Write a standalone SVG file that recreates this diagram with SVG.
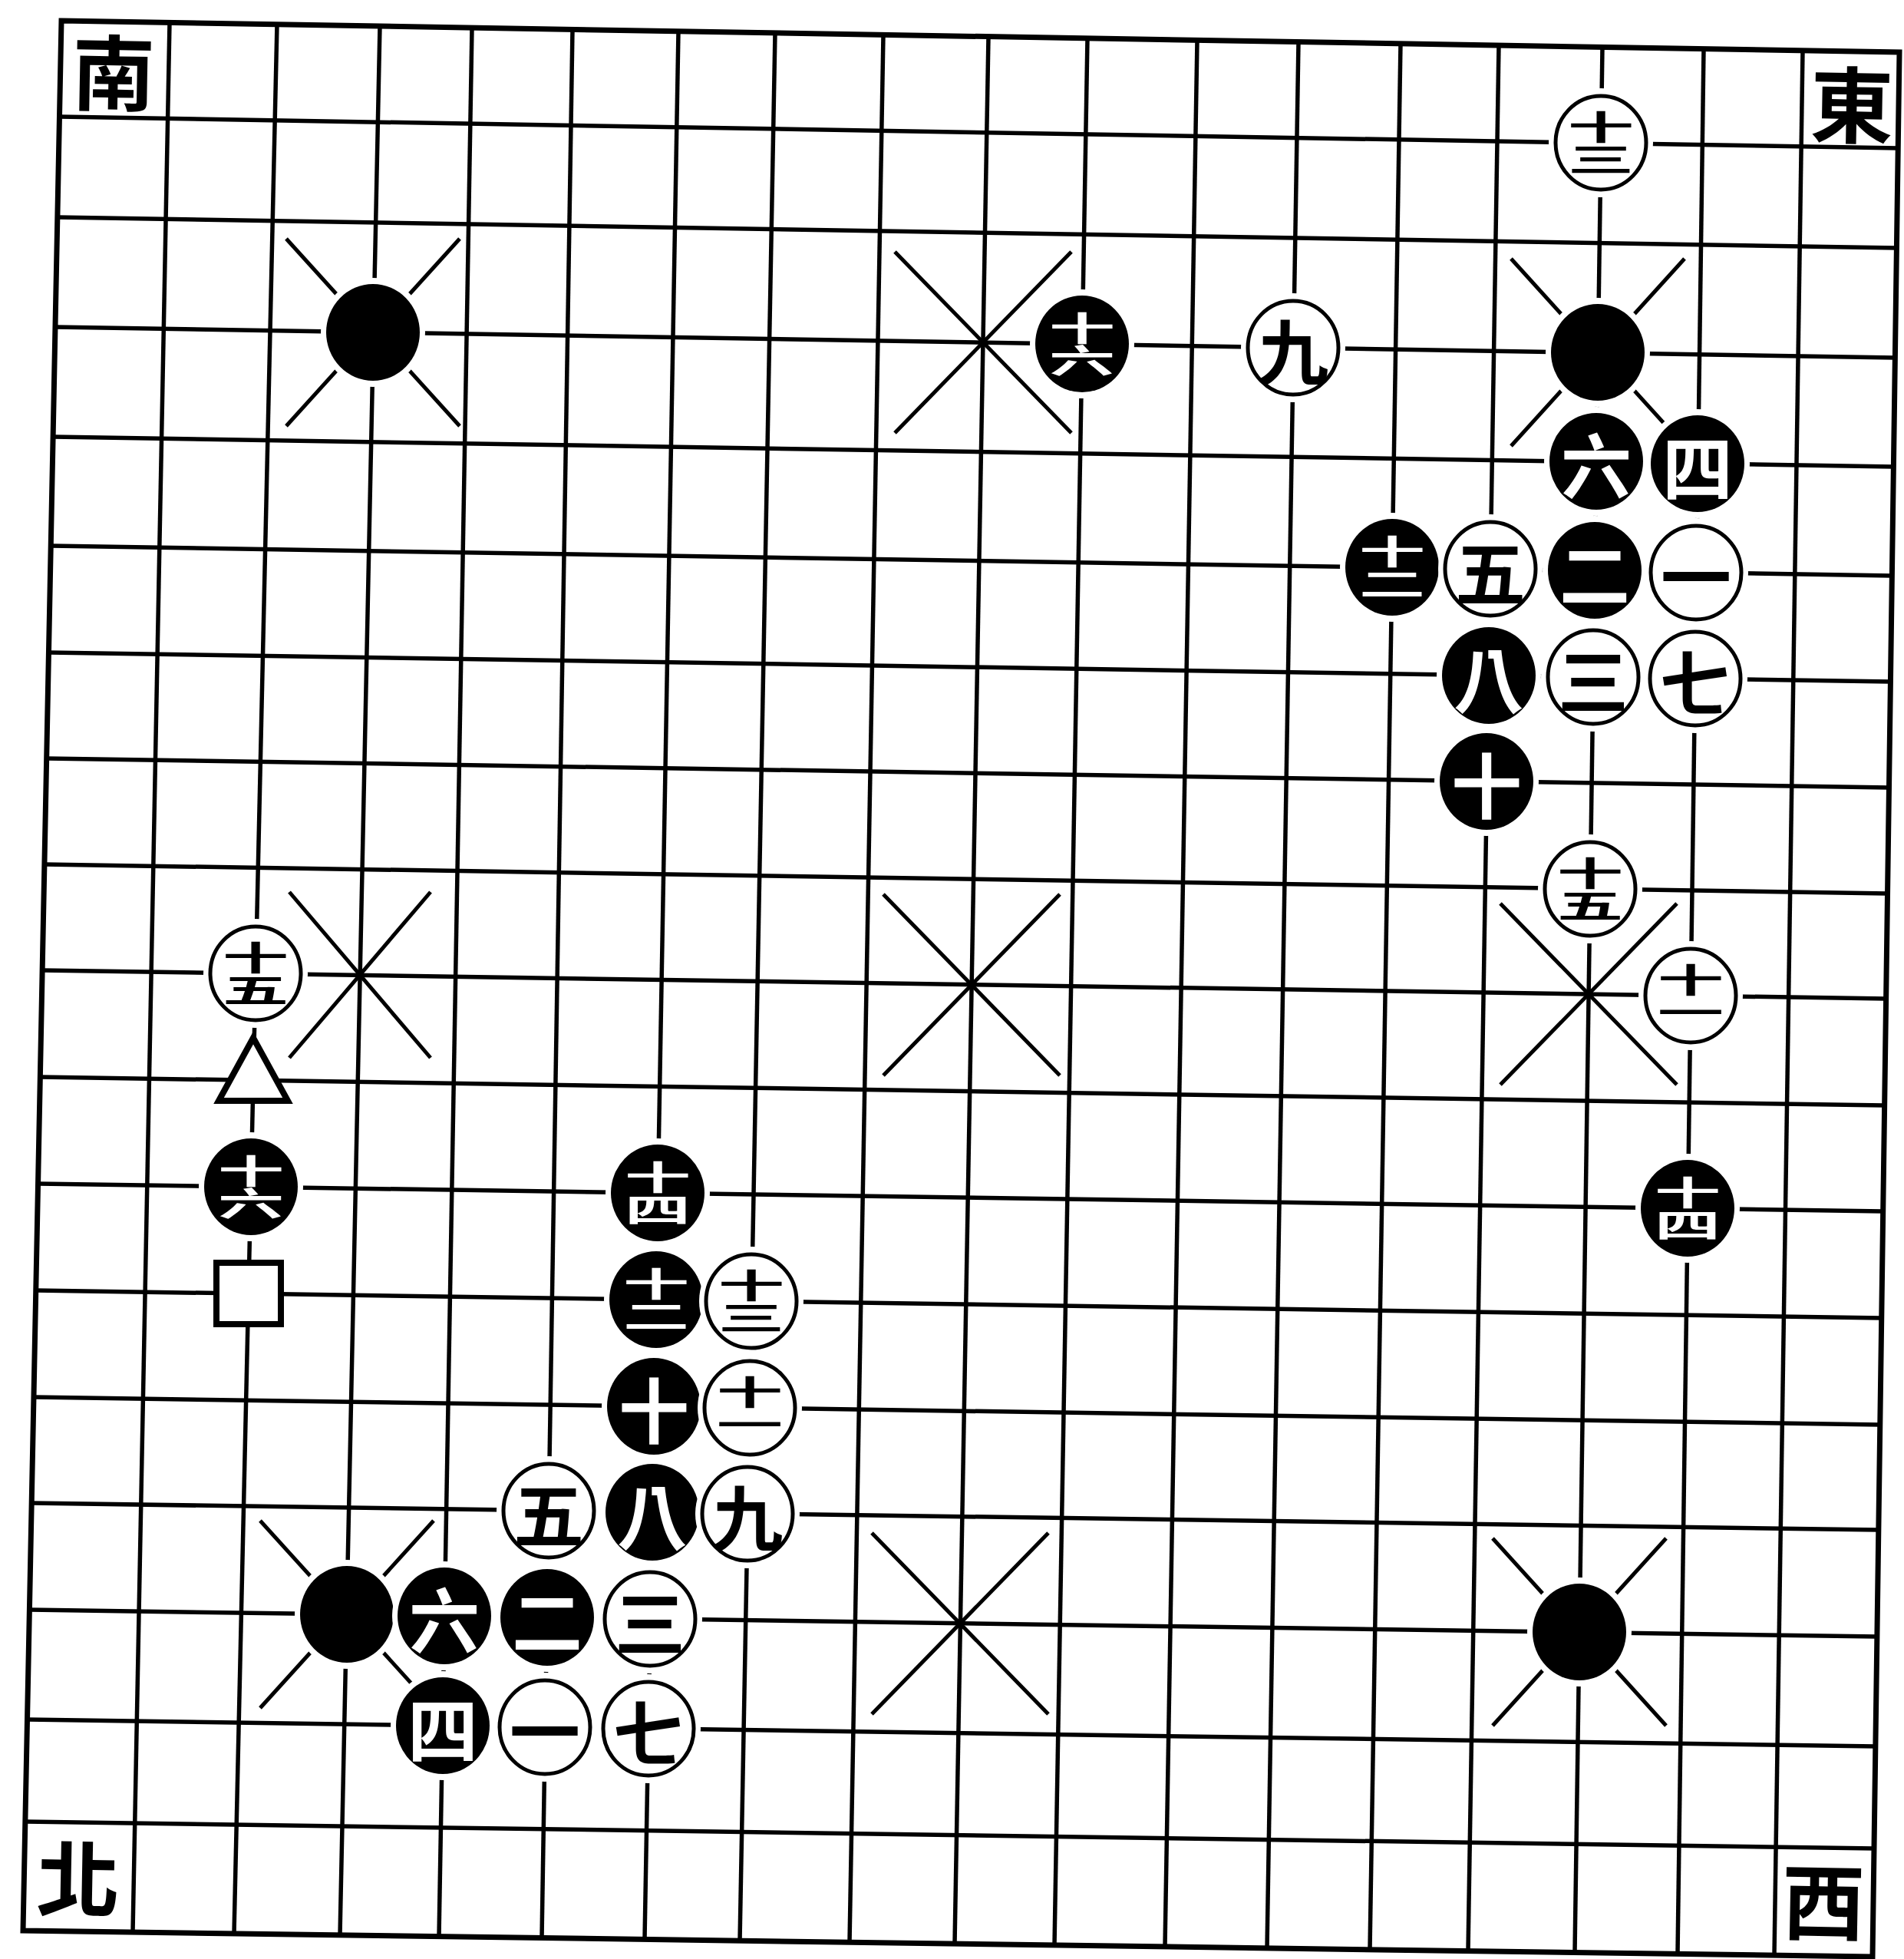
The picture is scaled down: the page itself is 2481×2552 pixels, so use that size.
<svg xmlns="http://www.w3.org/2000/svg" width="2481" height="2552" viewBox="0 0 2481 2552">
<style>
.gl line{stroke:#000;stroke-width:5.5}
.border{fill:none;stroke:#000;stroke-width:7;stroke-linejoin:miter}
.mk{fill:#fff;stroke:#000;stroke-width:8}
text{font-family:"Noto Sans CJK TC","Noto Sans CJK SC",sans-serif;font-weight:700;text-anchor:middle;dominant-baseline:central}
.tb{fill:#fff;font-size:92px}
.tw{fill:#000;font-size:92px}
.s{font-size:86px;writing-mode:vertical-rl;letter-spacing:-2px}
.corner{fill:#000;font-size:108px}
</style>
<defs>
<g id="xs" stroke="#000" stroke-width="5"><line x1="-45" y1="-47" x2="-113" y2="-122"/><line x1="45" y1="-47" x2="113" y2="-122"/><line x1="-45" y1="47" x2="-113" y2="122"/><line x1="45" y1="47" x2="113" y2="122"/></g>
<g id="xe" stroke="#000" stroke-width="5"><line x1="-115" y1="-118" x2="115" y2="118"/><line x1="115" y1="-118" x2="-115" y2="118"/></g>
<g id="xm" stroke="#000" stroke-width="5"><line x1="-92" y1="-108" x2="92" y2="108"/><line x1="92" y1="-108" x2="-92" y2="108"/></g>
<ellipse id="halo" fill="#fff" rx="68" ry="71"/>
<ellipse id="bs" fill="#000" rx="61" ry="63"/>
<ellipse id="ws" fill="#fff" stroke="#000" stroke-width="5" rx="59" ry="61"/>
</defs>
<rect width="2481" height="2552" fill="#fff"/>
<g id="grid" class="gl">
<line x1="221" y1="29.3" x2="173" y2="2516.9"/>
<line x1="361" y1="31.6" x2="305" y2="2518.8"/>
<line x1="495" y1="33.8" x2="443" y2="2520.7"/>
<line x1="615" y1="36.1" x2="572" y2="2522.6"/>
<line x1="746" y1="38.4" x2="706" y2="2524.4"/>
<line x1="884" y1="40.7" x2="840" y2="2526.3"/>
<line x1="1010" y1="42.9" x2="964" y2="2528.2"/>
<line x1="1151" y1="45.2" x2="1107" y2="2530.1"/>
<line x1="1288" y1="47.5" x2="1244" y2="2532"/>
<line x1="1417" y1="49.8" x2="1374" y2="2533.9"/>
<line x1="1560" y1="52.1" x2="1518" y2="2535.8"/>
<line x1="1692" y1="54.3" x2="1651" y2="2537.7"/>
<line x1="1825" y1="56.6" x2="1785" y2="2539.6"/>
<line x1="1953" y1="58.9" x2="1913" y2="2541.4"/>
<line x1="2088" y1="61.2" x2="2052" y2="2543.3"/>
<line x1="2220" y1="63.4" x2="2186" y2="2545.2"/>
<line x1="2349" y1="65.7" x2="2312" y2="2547.1"/>
<line x1="77.2" y1="152" x2="2473.1" y2="193"/>
<line x1="74.4" y1="283" x2="2471.1" y2="323"/>
<line x1="71.7" y1="426" x2="2469.2" y2="466"/>
<line x1="68.9" y1="569" x2="2467.2" y2="608"/>
<line x1="66.1" y1="711" x2="2465.3" y2="750"/>
<line x1="63.3" y1="850" x2="2463.3" y2="888"/>
<line x1="60.6" y1="988" x2="2461.4" y2="1026"/>
<line x1="57.8" y1="1126" x2="2459.4" y2="1164"/>
<line x1="55" y1="1264" x2="2457.5" y2="1301"/>
<line x1="52.2" y1="1403" x2="2455.6" y2="1440"/>
<line x1="49.4" y1="1542" x2="2453.6" y2="1578"/>
<line x1="46.7" y1="1681" x2="2451.7" y2="1717"/>
<line x1="43.9" y1="1820" x2="2449.7" y2="1856"/>
<line x1="41.1" y1="1958" x2="2447.8" y2="1993"/>
<line x1="38.3" y1="2097" x2="2445.8" y2="2132"/>
<line x1="35.6" y1="2240" x2="2443.9" y2="2275"/>
<line x1="32.8" y1="2373" x2="2441.9" y2="2408"/>
<polygon class="border" points="80,27 2475,68 2440,2549 30,2515"/>
</g>
<g id="stars">
<use href="#xs" x="486" y="433"/>
<use href="#xe" x="1281" y="446"/>
<use href="#xs" x="2082" y="459"/>
<use href="#xm" x="469" y="1270"/>
<use href="#xe" x="1266" y="1283"/>
<use href="#xe" x="2070" y="1295"/>
<use href="#xs" x="452" y="2103"/>
<use href="#xe" x="1251" y="2115"/>
<use href="#xs" x="2058" y="2126"/>
</g>
<g id="labels">
<text class="corner" x="148" y="89" transform="rotate(1 148 89)">南</text>
<text class="corner" x="2413" y="131" transform="rotate(1 2413 131)">東</text>
<text class="corner" x="102" y="2442" transform="rotate(1 102 2442)">北</text>
<text class="corner" x="2376" y="2472" transform="rotate(1 2376 2472)">西</text>
</g>
<g id="star-stones">
<g id="star-tl" transform="translate(486,433)"><use href="#halo"/><use href="#bs"/></g>
<g id="star-tr" transform="translate(2082,459)"><use href="#halo"/><use href="#bs"/></g>
<g id="star-bl" transform="translate(452,2103)"><use href="#halo"/><use href="#bs"/></g>
<g id="star-br" transform="translate(2058,2126)"><use href="#halo"/><use href="#bs"/></g>
</g>
<g id="east-moves">
<g id="e-w13" transform="translate(2086,186)"><use href="#halo"/><use href="#ws"/><text class="tw s" transform="scale(1,0.5)">十三</text></g>
<g id="e-b6" transform="translate(2080,601)"><use href="#halo"/><use href="#bs"/><text class="tb">六</text></g>
<g id="e-b4" transform="translate(2212,604)"><use href="#halo"/><use href="#bs"/><text class="tb">四</text></g>
<g id="e-b12" transform="translate(1814,739)"><use href="#halo"/><use href="#bs"/><text class="tb s" transform="scale(1,0.5)">十二</text></g>
<g id="e-w5" transform="translate(1942,741)"><use href="#halo"/><use href="#ws"/><text class="tw">五</text></g>
<g id="e-b2" transform="translate(2078,743)"><use href="#halo"/><use href="#bs"/><text class="tb">二</text></g>
<g id="e-w1" transform="translate(2210,746)"><use href="#halo"/><use href="#ws"/><text class="tw">一</text></g>
<g id="e-b8" transform="translate(1940,880)"><use href="#halo"/><use href="#bs"/><text class="tb">八</text></g>
<g id="e-w3" transform="translate(2076,882)"><use href="#halo"/><use href="#ws"/><text class="tw">三</text></g>
<g id="e-w7" transform="translate(2209,884)"><use href="#halo"/><use href="#ws"/><text class="tw">七</text></g>
<g id="e-b10" transform="translate(1937,1018)"><use href="#halo"/><use href="#bs"/><text class="tb">十</text></g>
<g id="e-w15" transform="translate(2072,1158)"><use href="#halo"/><use href="#ws"/><text class="tw s" transform="scale(1,0.5)">十五</text></g>
<g id="e-w11" transform="translate(2203,1297)"><use href="#halo"/><use href="#ws"/><text class="tw s" transform="scale(1,0.5)">十一</text></g>
<g id="e-b14" transform="translate(2199,1574)"><use href="#halo"/><use href="#bs"/><text class="tb s" transform="scale(1,0.5)">十四</text></g>
<g id="e-b16" transform="translate(1410,448)"><use href="#halo"/><use href="#bs"/><text class="tb s" transform="scale(1,0.5)">十六</text></g>
<g id="e-w9" transform="translate(1685,453)"><use href="#halo"/><use href="#ws"/><text class="tw">九</text></g>
</g>
<g id="north-moves">
<g id="n-w15" transform="translate(333,1268)"><use href="#halo"/><use href="#ws"/><text class="tw s" transform="scale(1,0.5)">十五</text></g>
<g id="n-triangle" transform="translate(330,1407)"><polygon class="mk" points="0,-55 -45,27 45,27"/></g>
<g id="n-b16" transform="translate(327,1546)"><use href="#halo"/><use href="#bs"/><text class="tb s" transform="scale(1,0.5)">十六</text></g>
<g id="n-square" transform="translate(324,1685)"><rect class="mk" x="-42" y="-40" width="84" height="80"/></g>
<g id="n-b14" transform="translate(857,1554)"><use href="#halo"/><use href="#bs"/><text class="tb s" transform="scale(1,0.5)">十四</text></g>
<g id="n-b12" transform="translate(855,1693)"><use href="#halo"/><use href="#bs"/><text class="tb s" transform="scale(1,0.5)">十二</text></g>
<g id="n-w13" transform="translate(979,1695)"><use href="#halo"/><use href="#ws"/><text class="tw s" transform="scale(1,0.5)">十三</text></g>
<g id="n-b10" transform="translate(852,1832)"><use href="#halo"/><use href="#bs"/><text class="tb">十</text></g>
<g id="n-w11" transform="translate(977,1834)"><use href="#halo"/><use href="#ws"/><text class="tw s" transform="scale(1,0.5)">十一</text></g>
<g id="n-w5" transform="translate(715,1968)"><use href="#halo"/><use href="#ws"/><text class="tw">五</text></g>
<g id="n-b8" transform="translate(850,1970)"><use href="#halo"/><use href="#bs"/><text class="tb">八</text></g>
<g id="n-w9" transform="translate(974,1972)"><use href="#halo"/><use href="#ws"/><text class="tw">九</text></g>
<g id="n-b6" transform="translate(579,2105)"><use href="#halo"/><use href="#bs"/><text class="tb">六</text></g>
<g id="n-b2" transform="translate(713,2107)"><use href="#halo"/><use href="#bs"/><text class="tb">二</text></g>
<g id="n-w3" transform="translate(847,2109)"><use href="#halo"/><use href="#ws"/><text class="tw">三</text></g>
<g id="n-b4" transform="translate(577,2248)"><use href="#halo"/><use href="#bs"/><text class="tb">四</text></g>
<g id="n-w1" transform="translate(710,2250)"><use href="#halo"/><use href="#ws"/><text class="tw">一</text></g>
<g id="n-w7" transform="translate(845,2252)"><use href="#halo"/><use href="#ws"/><text class="tw">七</text></g>
</g>
</svg>
